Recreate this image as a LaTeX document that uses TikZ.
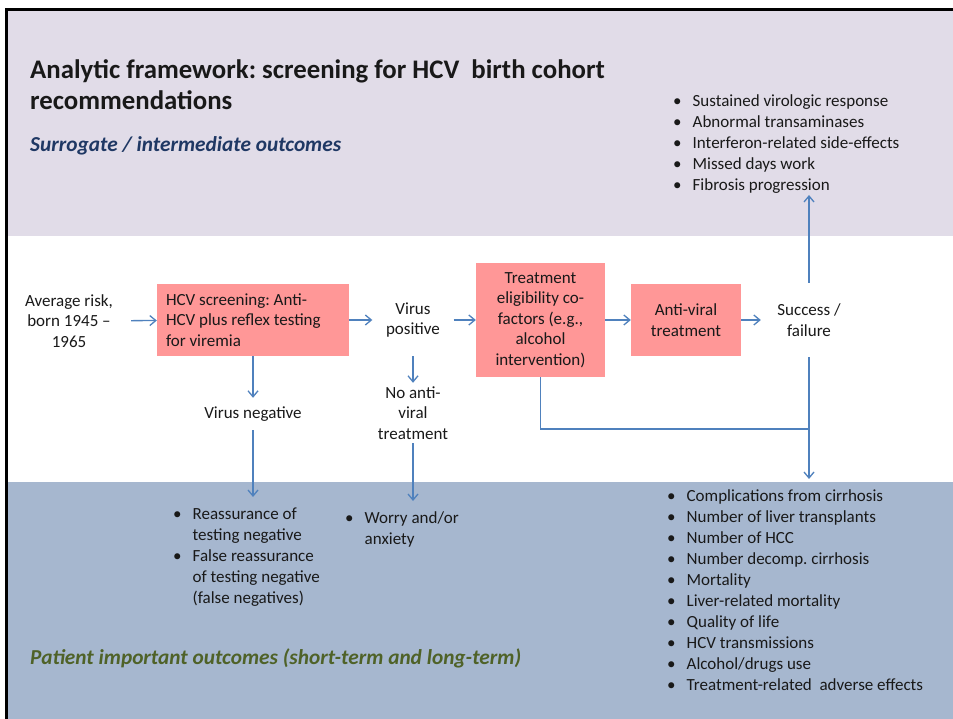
\documentclass[tikz,border=0pt]{standalone}
\usepackage{fontspec}
\setmainfont{Carlito}
\usetikzlibrary{arrows.meta,positioning}
\frenchspacing

\definecolor{topband}{RGB}{225,220,232}
\definecolor{lowband}{RGB}{166,183,207}
\definecolor{boxpink}{RGB}{255,151,151}
\definecolor{arrowblue}{RGB}{79,129,189}
\definecolor{surrblue}{RGB}{31,56,100}
\definecolor{patgreen}{RGB}{79,98,40}

% bullet lists as two-column tabulars
\newcommand{\blist}[1]{\begin{tabular}[t]{@{}c@{\hspace{11pt}}l@{}}#1\end{tabular}}
\newcommand{\bi}{\textbullet &}

\begin{document}
\begin{tikzpicture}[x=1pt, y=-1pt,
  every node/.style={font=\fontsize{17}{20.5}\selectfont, text=black!90, inner sep=0pt},
  stepbox/.style={fill=boxpink, align=center},
  flowtxt/.style={align=center},
  outlist/.style={anchor=base west, font=\fontsize{17}{21}\selectfont},
  heading/.style={anchor=base west, font=\fontsize{21.3}{25}\selectfont\bfseries\itshape},
  link/.style={draw=arrowblue, line width=1.3pt},
  arr/.style={link, -{Straight Barb[length=6pt,width=10pt]}}
]
  % --- Hintergrund / Bänder ---
  \useasboundingbox (0,0) rectangle (953,719);
  \fill[white] (0,0) rectangle (953,719);
  \fill[topband] (8,11) rectangle (953,236);
  \fill[lowband] (8,482) rectangle (953,719);
  \fill[black] (5,8) rectangle (953,11);
  \fill[black] (5,8) rectangle (8,719);

  % --- Titel ---
  \node[anchor=base west, font=\fontsize{26.8}{31}\selectfont\bfseries] (title) at (30,78.5)
    {\begin{tabular}[t]{@{}l@{}}Analytic framework: screening for HCV\ \ birth cohort\\recommendations\end{tabular}};
  \node[heading, text=surrblue] (surr) at (30,152) {Surrogate / intermediate outcomes};
  \node[heading, text=patgreen] (pat) at (30,664) {Patient important outcomes (short-term and long-term)};

  % --- Ablauf ---
  \node[flowtxt, minimum width=124pt] (avg) at (69,321) {Average risk,\\born 1945 –\\1965};
  \node[stepbox, minimum width=192pt, minimum height=72pt, text width=174pt, align=flush left] (screen) at (253,320)
    {HCV screening: Anti-\\HCV plus reflex testing\\for viremia};
  \node[flowtxt, minimum width=81pt, minimum height=72pt] (vpos) at (413,320) {Virus\\positive};
  \node[stepbox, minimum width=129pt, minimum height=114pt] (elig) at (540.5,320)
    {Treatment\\eligibility co-\\factors (e.g.,\\alcohol\\intervention)};
  \node[stepbox, minimum width=110pt, minimum height=72pt] (antiv) at (686,320) {Anti-viral\\treatment};
  \node[flowtxt, minimum width=96pt, minimum height=74pt] (succ) at (809,320) {Success /\\failure};
  \node[flowtxt, minimum height=32pt] (vneg) at (253,414) {Virus negative};
  \node[flowtxt, minimum height=60pt] (noav) at (413,413) {No anti-\\viral\\treatment};

  % --- Outcomes ---
  \node[outlist] (surrlist) at (673,107) {\blist{%
    \bi Sustained virologic response\\
    \bi Abnormal transaminases\\
    \bi Interferon-related side-effects\\
    \bi Missed days work\\
    \bi Fibrosis progression}};
  \node[outlist] (neglist) at (173,519) {\blist{%
    \bi Reassurance of\\
    & testing negative\\
    \bi False reassurance\\
    & of testing negative\\
    & (false negatives)}};
  \node[outlist] (worry) at (345,523) {\blist{%
    \bi Worry and/or\\
    & anxiety}};
  \node[outlist] (patlist) at (667,501.5) {\blist{%
    \bi Complications from cirrhosis\\
    \bi Number of liver transplants\\
    \bi Number of HCC\\
    \bi Number decomp. cirrhosis\\
    \bi Mortality\\
    \bi Liver-related mortality\\
    \bi Quality of life\\
    \bi HCV transmissions\\
    \bi Alcohol/drugs use\\
    \bi Treatment-related\ \ adverse effects}};

  % --- Pfeile ---
  \coordinate (surrend) at (809,195);
  \coordinate (negend) at (253,497);
  \coordinate (worryend) at (413,501);
  \coordinate (join) at (809,429);
  \coordinate (patend) at (809,479);

  \draw[arr] (avg) -- (screen);
  \draw[arr] (screen) -- (vpos);
  \draw[arr] (vpos) -- (elig);
  \draw[arr] (elig) -- (antiv);
  \draw[arr] (antiv) -- (succ);
  \draw[arr] (screen) -- (vneg);
  \draw[arr] (vneg) -- (negend);
  \draw[arr] (vpos) -- (noav);
  \draw[arr] (noav) -- (worryend);
  \draw[arr] (succ) -- (surrend);
  \draw[arr] (succ) -- (patend);
  \draw[link] (elig.south) |- (join);
\end{tikzpicture}
\end{document}
